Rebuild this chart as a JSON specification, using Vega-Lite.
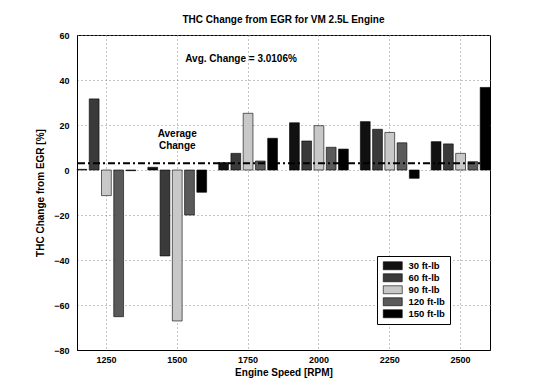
{
  "$schema": "https://vega.github.io/schema/vega-lite/v6.json",
  "autosize": {"type": "none"},
  "padding": {"left": 77, "top": 35, "right": 43, "bottom": 42},
  "width": 413,
  "height": 315,
  "background": "white",
  "title": {"text": "THC Change from EGR for VM 2.5L Engine", "font": "Liberation Sans", "fontSize": 10, "fontWeight": "bold", "color": "black", "offset": 6, "anchor": "middle"},
  "config": {
    "view": {"stroke": "black", "strokeWidth": 1},
    "axis": {"labelFont": "Liberation Sans", "labelFontWeight": "bold", "labelFontSize": 9, "labelColor": "black", "titleFont": "Liberation Sans", "titleFontWeight": "bold", "titleFontSize": 10, "titleColor": "black", "domainColor": "black", "ticks": false, "gridColor": "#888", "gridDash": [1, 3], "gridWidth": 1}
  },
  "layer": [
    {
      "data": {"values": [
        {"speed": "1250", "load": "30 ft-lb", "value": 0.3},
        {"speed": "1250", "load": "60 ft-lb", "value": 31.6},
        {"speed": "1250", "load": "90 ft-lb", "value": -11.4},
        {"speed": "1250", "load": "120 ft-lb", "value": -65.2},
        {"speed": "1250", "load": "150 ft-lb", "value": -0.3},
        {"speed": "1500", "load": "30 ft-lb", "value": 1.2},
        {"speed": "1500", "load": "60 ft-lb", "value": -38.2},
        {"speed": "1500", "load": "90 ft-lb", "value": -67.1},
        {"speed": "1500", "load": "120 ft-lb", "value": -20.0},
        {"speed": "1500", "load": "150 ft-lb", "value": -9.9},
        {"speed": "1750", "load": "30 ft-lb", "value": 3.3},
        {"speed": "1750", "load": "60 ft-lb", "value": 7.4},
        {"speed": "1750", "load": "90 ft-lb", "value": 25.2},
        {"speed": "1750", "load": "120 ft-lb", "value": 4.0},
        {"speed": "1750", "load": "150 ft-lb", "value": 14.1},
        {"speed": "2000", "load": "30 ft-lb", "value": 21.0},
        {"speed": "2000", "load": "60 ft-lb", "value": 12.9},
        {"speed": "2000", "load": "90 ft-lb", "value": 19.7},
        {"speed": "2000", "load": "120 ft-lb", "value": 10.1},
        {"speed": "2000", "load": "150 ft-lb", "value": 9.3},
        {"speed": "2250", "load": "30 ft-lb", "value": 21.5},
        {"speed": "2250", "load": "60 ft-lb", "value": 18.1},
        {"speed": "2250", "load": "90 ft-lb", "value": 16.7},
        {"speed": "2250", "load": "120 ft-lb", "value": 12.1},
        {"speed": "2250", "load": "150 ft-lb", "value": -3.7},
        {"speed": "2500", "load": "30 ft-lb", "value": 12.6},
        {"speed": "2500", "load": "60 ft-lb", "value": 11.6},
        {"speed": "2500", "load": "90 ft-lb", "value": 7.4},
        {"speed": "2500", "load": "120 ft-lb", "value": 3.7},
        {"speed": "2500", "load": "150 ft-lb", "value": 36.7}
      ]},
      "mark": {"type": "bar", "stroke": "black", "strokeWidth": 0.6},
      "encoding": {
        "x": {"field": "speed", "type": "nominal", "sort": ["1250", "1500", "1750", "2000", "2250", "2500"], "scale": {"paddingInner": 0.17, "paddingOuter": 0}, "axis": {"title": "Engine Speed [RPM]", "labelAngle": 0, "bandPosition": 0.5, "grid": true, "labelPadding": 5, "titlePadding": 3}},
        "xOffset": {"field": "load", "type": "nominal", "sort": ["30 ft-lb", "60 ft-lb", "90 ft-lb", "120 ft-lb", "150 ft-lb"], "scale": {"paddingInner": 0.2}},
        "y": {"field": "value", "type": "quantitative", "scale": {"domain": [-80, 60], "nice": false, "zero": false}, "axis": {"title": "THC Change from EGR [%]", "values": [-80, -60, -40, -20, 0, 20, 40, 60], "grid": true, "labelPadding": 8, "titlePadding": 8}},
        "fill": {"field": "load", "type": "nominal", "sort": ["30 ft-lb", "60 ft-lb", "90 ft-lb", "120 ft-lb", "150 ft-lb"], "scale": {"domain": ["30 ft-lb", "60 ft-lb", "90 ft-lb", "120 ft-lb", "150 ft-lb"], "range": ["#111111", "#3a3a3a", "#c8c8c8", "#5a5a5a", "#000000"]},
          "legend": {"title": null, "orient": "none", "legendX": 300, "legendY": 221, "symbolType": "M-2.375,-1H2.375V1H-2.375Z", "symbolSize": 64, "symbolOffset": 6, "symbolStrokeColor": "black", "symbolStrokeWidth": 0.6, "labelFont": "Liberation Sans", "labelFontWeight": "bold", "labelFontSize": 9.5, "labelColor": "black", "labelOffset": 11, "strokeColor": "black", "fillColor": "white", "padding": 5, "rowPadding": 1}}
      }
    },
    {
      "data": {"values": [{"avg": 3.0106}]},
      "mark": {"type": "rule", "color": "black", "strokeWidth": 2, "strokeDash": [7, 3, 2, 3]},
      "encoding": {"y": {"field": "avg", "type": "quantitative"}}
    },
    {
      "data": {"values": [
        {"speed": "1750", "y": 49.5, "label": "Avg. Change = 3.0106%"}
      ]},
      "mark": {"type": "text", "font": "Liberation Sans", "fontWeight": "bold", "fontSize": 10, "color": "black", "baseline": "middle", "dx": -7},
      "encoding": {
        "x": {"field": "speed", "type": "nominal", "sort": ["1250", "1500", "1750", "2000", "2250", "2500"], "bandPosition": 0.5},
        "y": {"field": "y", "type": "quantitative"},
        "text": {"field": "label"}
      }
    },
    {
      "data": {"values": [
        {"speed": "1500", "y": 16.0, "label": "Average"},
        {"speed": "1500", "y": 10.5, "label": "Change"}
      ]},
      "mark": {"type": "text", "font": "Liberation Sans", "fontWeight": "bold", "fontSize": 10, "color": "black", "baseline": "middle"},
      "encoding": {
        "x": {"field": "speed", "type": "nominal", "sort": ["1250", "1500", "1750", "2000", "2250", "2500"], "bandPosition": 0.5},
        "y": {"field": "y", "type": "quantitative"},
        "text": {"field": "label"}
      }
    }
  ]
}
